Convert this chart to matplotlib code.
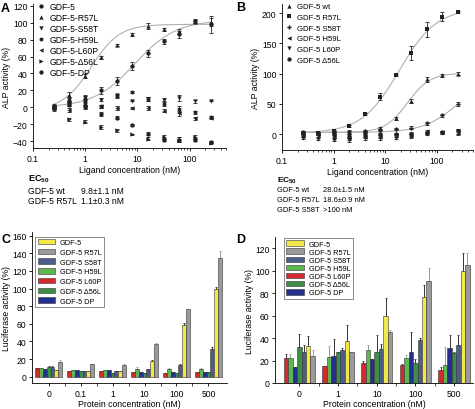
import numpy as np
import matplotlib
matplotlib.use("Agg")
import matplotlib.pyplot as plt
from matplotlib.ticker import FixedLocator

plt.rcParams['font.family'] = ['Liberation Sans', 'DejaVu Sans']
plt.rcParams['font.size'] = 6.2
plt.rcParams['mathtext.fontset'] = 'custom'
plt.rcParams['mathtext.bf'] = 'Liberation Sans:bold'
plt.rcParams['mathtext.rm'] = 'Liberation Sans'
plt.rcParams['axes.linewidth'] = 0.6
plt.rcParams['xtick.major.width'] = 0.6
plt.rcParams['ytick.major.width'] = 0.6
plt.rcParams['xtick.minor.width'] = 0.5
plt.rcParams['xtick.major.size'] = 2.5
plt.rcParams['ytick.major.size'] = 2.5
plt.rcParams['xtick.minor.size'] = 1.5
plt.rcParams['xtick.major.pad'] = 1.5
plt.rcParams['ytick.major.pad'] = 1.5

W, H = 475, 410

# ---- panel A data (ALP, ligand titration) ----
conc = [0.25, 0.5, 1, 2, 4, 8, 16, 32, 64, 128, 256]
a_labels = ['GDF-5', 'GDF-5-R57L', 'GDF-5-S58T', 'GDF-5-H59L',
            'GDF-5-L60P', 'GDF-5-\u039456L', 'GDF-5-DP']
a_markers = ['o', '^', 'v', 'h', '<', '>', 'o']
a_gdf5 = [0, 6, 10, 20, 31, 49, 64, 78, 86, 102, 98]
a_r57l = [0, 15, 37, 59, 74, 86, 96, 92, 90, 101, 101]
a_s58t = [0, 9, 11, 9, 14, 8, 10, 9, 11, 7, 8]
a_h59l = [0, 6, 5, 1, 13, 18, 10, 4, -2, -6, -11]
a_l60p = [0, -3, 0, 1, -1, -1, -1, -4, -7, -13, -13]
a_d56l = [0, -14, -17, -23, -27, -32, -37, -35, -38, -35, -42]
a_dp = [0, 3, 1, -8, -12, -21, -31, -38, -38, -38, -41]
a_gdf5_err = [4, 3, 4, 4, 5, 5, 4, 3, 4, 2, 10]
a_r57l_err = [3, 3, 2, 2, 1, 2, 3, 2, 3, 2, 5]
a_small_err = [2, 2, 2, 2, 2, 1, 2, 2, 3, 2, 1]
# fitted curve parameters (bottom, top, ec50, hill)
a_fit_gdf5 = (0, 103, 9.0, 1.1)
a_fit_r57l = (-3, 98, 1.3, 1.6)
a_ec50 = [('GDF-5 wt', '9.8\u00b11.1 nM'), ('GDF-5 R57L', '1.1\u00b10.3 nM')]

# ---- panel B data ----
b_labels = ['GDF-5 wt', 'GDF-5 R57L', 'GDF-5 S58T', 'GDF-5 H59L',
            'GDF-5 L60P', 'GDF-5 \u039456L']
b_markers = ['^', 's', 'P', '<', 'v', 'o']
b_wt = [2, 2, 3, 3, 5, 10, 26, 55, 91, 97, 100]
b_r57l = [2, 2, 5, 14, 33, 62, 98, 134, 173, 194, 202]
b_s58t = [2, 2, 3, 4, 5, 7, 9, 11, 18, 31, 50]
b_h59l = [-3, -2, -5, -7, -5, -4, -2, -2, 5, 3, 4]
b_l60p = [-6, -8, -9, -10, -7, -7, -6, -3, 0, 2, 3]
b_d56l = [3, 1, 0, -3, 0, 0, 0, 0, 2, 4, 5]
b_wt_err = [2, 2, 2, 2, 1, 2, 2, 3, 4, 2, 2]
b_r57l_err = [2, 1, 2, 2, 2, 6, 2, 12, 13, 7, 2]
b_small_err = [2, 2, 2, 3, 2, 2, 2, 3, 2, 2, 4]
b_fit_wt = (3, 101, 27, 2.0)
b_fit_r57l = (2, 208, 18.6, 1.2)
b_fit_s58t = (3, 97, 256, 1.3)
b_ec50 = [('GDF-5 wt', '28.0\u00b11.5 nM'), ('GDF-5 R57L', '18.6\u00b10.9 nM'),
          ('GDF-5 S58T', '>100 nM')]

# ---- panels C/D (luciferase) ----
bar_names = ['GDF-5 L60P', 'GDF-5 H59L', 'GDF-5 DP', 'GDF-5 \u039456L',
             'GDF-5 S58T', 'GDF-5', 'GDF-5 R57L']
bar_colors = ['#d42a2e', '#5cb84e', '#232f8e', '#3c8f45',
              '#4b5d88', '#f3e84a', '#9a9a9a']
legend_order = ['GDF-5', 'GDF-5 R57L', 'GDF-5 S58T', 'GDF-5 H59L',
                'GDF-5 L60P', 'GDF-5 \u039456L', 'GDF-5 DP']
c_groups = ['0', '0.1', '1', '10', '100', '500']
c_vals = [[10, 7, 7, 5, 4, 5],
          [10, 8, 8, 9, 9, 9],
          [9, 8, 8, 6, 6, 6],
          [11, 7, 4, 4, 4, 5],
          [11, 7, 7, 9, 13, 32],
          [8, 7, 7, 18, 59, 100],
          [17, 15, 13, 37, 77, 134]]
c_err = [[0, 0, 0, 0, 0, 0],
         [0, 0, 0, 2, 1, 1],
         [0, 0, 0, 0, 0, 0],
         [1, 0, 0, 0, 0, 0],
         [1, 0, 0, 0, 2, 2],
         [0, 0, 0, 1, 2, 2],
         [2, 0, 2, 1, 0, 8]]
d_groups = ['0', '1', '10', '100', '500']
d_vals = [[22, 15, 18, 16, 12],
          [22, 23, 29, 22, 16],
          [14, 24, 21, 28, 31],
          [32, 28, 28, 18, 27],
          [28, 29, 30, 38, 34],
          [33, 37, 60, 77, 100],
          [24, 28, 45, 91, 105]]
d_err = [[4, 0, 2, 1, 2],
         [4, 10, 5, 3, 16],
         [0, 15, 0, 17, 12],
         [12, 0, 15, 3, 1],
         [6, 2, 5, 2, 9],
         [9, 15, 16, 10, 16],
         [5, 0, 2, 11, 11]]


def px_axes(fig, left, top, right, bottom):
    return fig.add_axes([left / W, 1 - bottom / H, (right - left) / W, (bottom - top) / H])


def hill(x, p):
    bottom, top, ec50, h = p
    return bottom + (top - bottom) / (1 + (ec50 / x) ** h)


def ftext(x, y, s, **kw):
    fig.text(x / W, 1 - y / H, s, va='center', **kw)


def style_log(ax):
    ax.set_xscale('log')
    ax.set_xlim(0.1, 500)
    ax.set_xticks([0.1, 1, 10, 100])
    ax.set_xticklabels(['0.1', '1', '10', '100'])
    ax.spines['top'].set_visible(False)
    ax.spines['right'].set_visible(False)


def dose_panel(ax, series, errs, markers, labels, fits, leg_y, leg_fs, leg_sp):
    xc = np.logspace(np.log10(conc[0]), np.log10(conc[-1]), 200)
    for p in fits:
        ax.plot(xc, hill(xc, p), color='#b0b0b0', lw=0.8, zorder=1)
    for y, e, m, lab in zip(series, errs, markers, labels):
        ax.errorbar(conc, y, yerr=e, fmt='none', ecolor='#222222',
                    elinewidth=0.6, capsize=1.3, capthick=0.6, zorder=2)
        ax.plot(conc, y, ls='none', marker=m, color='#222222', ms=3.1, mew=0,
                label=lab, zorder=3)
    ax.legend(loc='upper left', bbox_to_anchor=(0.0, leg_y), frameon=False,
              handlelength=0.6, handletextpad=0.7, labelspacing=leg_sp,
              borderaxespad=0.2, fontsize=leg_fs)
    style_log(ax)
    ax.set_xlabel('Ligand concentration (nM)', labelpad=2)
    ax.set_ylabel('ALP activity (%)', labelpad=1)


def bar_panel(ax, vals, errs, groups, width, xlim, ylim, yticks, leg_box, leg_fs):
    x = np.arange(len(groups))
    n = len(vals)
    for i, (v, e, c, name) in enumerate(zip(vals, errs, bar_colors, bar_names)):
        pos = x + (i - (n - 1) / 2) * width
        ecol = '#9a9a9a' if c in ('#9a9a9a', '#5cb84e') else '#333333'
        ax.bar(pos, v, width, color=c, edgecolor='#333333', linewidth=0.4,
               label=name, zorder=2)
        ax.errorbar(pos, v, yerr=[np.zeros(len(e)), e], fmt='none', ecolor=ecol,
                    elinewidth=0.7, capsize=1.0, capthick=0.6, zorder=1)
    ax.set_xlim(*xlim)
    ax.set_ylim(*ylim)
    ax.set_yticks(yticks)
    ax.set_xticks(x)
    ax.set_xticklabels(groups)
    ax.xaxis.set_minor_locator(FixedLocator(x[:-1] + 0.5))
    ax.tick_params(axis='x', which='minor', length=2)
    ax.spines['top'].set_visible(False)
    ax.spines['right'].set_visible(False)
    ax.set_xlabel('Protein concentration (nM)', labelpad=1)
    ax.set_ylabel('Luciferase activity (%)', labelpad=1)
    handles, labels = ax.get_legend_handles_labels()
    lookup = dict(zip(labels, handles))
    leg = ax.legend([lookup[k] for k in legend_order], legend_order,
                    loc='upper left', bbox_to_anchor=leg_box[:2], fancybox=False,
                    edgecolor='#555555', handlelength=2.4, handleheight=0.75,
                    handletextpad=0.6, labelspacing=leg_box[2], borderpad=0.35,
                    borderaxespad=0, fontsize=leg_fs)
    leg.get_frame().set_linewidth(0.6)


fig = plt.figure(figsize=(W / 100, H / 100), dpi=100)

# A
axA = px_axes(fig, 33, 5, 226, 149)
dose_panel(axA, [a_gdf5, a_r57l, a_s58t, a_h59l, a_l60p, a_d56l, a_dp],
           [a_gdf5_err, a_r57l_err] + [a_small_err] * 5,
           a_markers, a_labels, [a_fit_gdf5, a_fit_r57l], 1.05, 6.2, 0.24)
axA.set_ylim(-48, 122)
axA.set_yticks(range(-40, 121, 20))

# B
axB = px_axes(fig, 282, 5, 473, 151)
dose_panel(axB, [b_wt, b_r57l, b_s58t, b_h59l, b_l60p, b_d56l],
           [b_wt_err, b_r57l_err] + [b_small_err] * 4,
           b_markers, b_labels, [b_fit_wt, b_fit_r57l, b_fit_s58t], 1.04, 5.6, 0.42)
axB.set_ylim(-26, 215)
axB.set_yticks([0, 50, 100, 150, 200])

# EC50 tables
ftext(28, 179, r'$\mathbf{EC}_{\mathbf{50}}$', fontsize=6.6)
for k, (name, val) in enumerate(a_ec50):
    ftext(28, 192 + 10 * k, name)
    ftext(81, 192 + 10 * k, val)
ftext(277, 181, r'$\mathbf{EC}_{\mathbf{50}}$', fontsize=6.0)
for k, (name, val) in enumerate(b_ec50):
    ftext(277, 191 + 9.7 * k, name, fontsize=5.4)
    ftext(323, 191 + 9.7 * k, val, fontsize=5.4)

# C
axC = px_axes(fig, 32, 233, 227, 384)
bar_panel(axC, c_vals, c_err, c_groups, 0.12, (-0.52, 5.58), (-7, 164),
          range(0, 161, 20), (0.015, 0.97, 0.33), 5.3)

# D
axD = px_axes(fig, 275, 238, 473, 384)
bar_panel(axD, d_vals, d_err, d_groups, 0.115, (-0.63, 4.49), (0, 130),
          range(0, 121, 20), (0.045, 0.995, 0.12), 5.3)

# panel letters
for lx, ly, s in [(1, 9, 'A'), (236, 8, 'B'), (1, 240, 'C'), (236, 240, 'D')]:
    ftext(lx, ly, s, fontsize=9, fontweight='bold')

fig.savefig('out.png', dpi=100)
